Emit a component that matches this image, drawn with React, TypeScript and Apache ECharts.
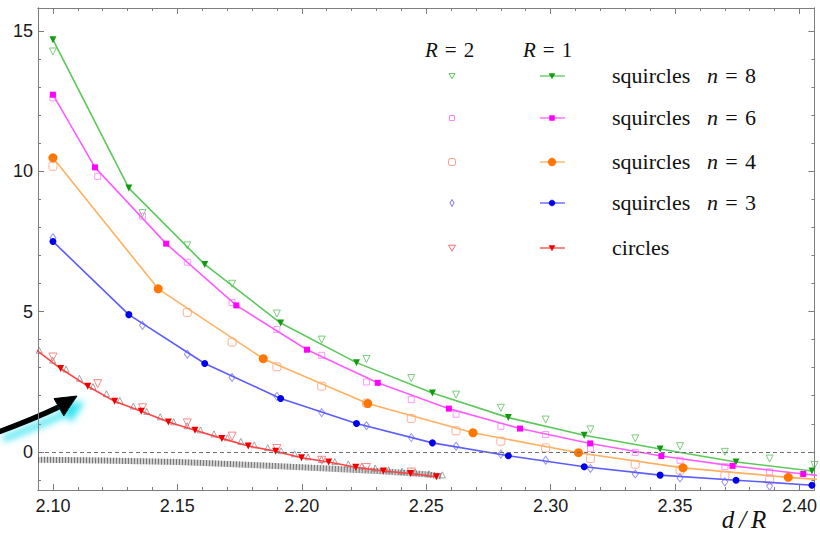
import React, { useEffect, useRef } from "react";
import * as echarts from "echarts";

// Plot window (d/R horizontally, energy vertically)
const X_MIN = 2.094;
const X_MAX = 2.406;
const Y_MIN = -1.36;
const Y_MAX = 15.82;

// Tick positions and labels
const xMajorTicks = [2.1, 2.15, 2.2, 2.25, 2.3, 2.35, 2.4];
const xMinorTicks = [
  2.1, 2.11, 2.12, 2.13, 2.14, 2.15, 2.16, 2.17, 2.18, 2.19, 2.2, 2.21, 2.22, 2.23, 2.24, 2.25,
  2.26, 2.27, 2.28, 2.29, 2.3, 2.31, 2.32, 2.33, 2.34, 2.35, 2.36, 2.37, 2.38, 2.39, 2.4,
];
const yMajorTicks = [0, 5, 10, 15];
const yMinorTicks = [-1, 0, 1, 2, 3, 4, 5, 6, 7, 8, 9, 10, 11, 12, 13, 14, 15];

// R = 1 (joined, filled markers)
const dN8R1 = [2.1, 2.1305, 2.161, 2.1915, 2.222, 2.2525, 2.283, 2.3135, 2.344, 2.3745, 2.405];
const n8R1 = [14.69, 9.4, 6.68, 4.59, 3.18, 2.1, 1.22, 0.59, 0.1, -0.36, -0.68];

const dN6R1 = [2.1, 2.1169, 2.1455, 2.1737, 2.2021, 2.2305, 2.2591, 2.2877, 2.3159, 2.3445, 2.3731, 2.4015, 2.4301];
const n6R1 = [12.73, 10.14, 7.42, 5.22, 3.64, 2.46, 1.54, 0.83, 0.3, -0.15, -0.5, -0.79, -1.05];

const dN4R1 = [2.1, 2.1423, 2.1845, 2.2265, 2.2688, 2.3112, 2.3532, 2.3955, 2.4378];
const n4R1 = [10.48, 5.81, 3.32, 1.72, 0.68, -0.03, -0.57, -0.91, -1.17];

const dN3R1 = [2.1, 2.1305, 2.161, 2.1915, 2.222, 2.2525, 2.283, 2.3135, 2.344, 2.3745, 2.405];
const n3R1 = [7.5, 4.89, 3.15, 1.9, 1.01, 0.32, -0.14, -0.53, -0.83, -1.01, -1.19];

const dCircR1 = [2.0923, 2.1031, 2.114, 2.1248, 2.1355, 2.1464, 2.1571, 2.1679, 2.1785, 2.1895, 2.1999, 2.2108, 2.2217, 2.2328, 2.2437, 2.2541];
const circR1 = [3.7, 2.97, 2.34, 1.8, 1.45, 1.06, 0.77, 0.48, 0.21, 0.02, -0.21, -0.36, -0.55, -0.68, -0.77, -0.89];

// R = 2 (open markers), common sampling in d/R
const dR2 = [2.1, 2.118, 2.136, 2.154, 2.172, 2.19, 2.208, 2.226, 2.244, 2.262, 2.28, 2.298, 2.316, 2.334, 2.352, 2.37, 2.388, 2.406];
const n8R2 = [14.27, null, 8.51, 7.36, 5.99, 4.93, 4.0, 3.31, 2.63, 2.04, 1.57, 1.15, 0.8, 0.48, 0.2, 0.0, -0.24, -0.47];
const n6R2 = [12.62, 9.82, 8.4, 6.76, 5.32, 4.36, 3.44, 2.49, 1.86, 1.34, 0.91, 0.62, 0.12, -0.02, -0.3, -0.53, -0.71, null];
const n4R2 = [10.18, null, null, 4.97, 3.91, 3.03, 2.34, 1.74, 1.19, 0.75, 0.38, 0.14, -0.24, -0.44, -0.65, -0.85, -1.01, null];
const n3R2 = [7.63, null, 4.51, 3.48, 2.65, 1.98, 1.4, 0.93, 0.51, 0.2, -0.08, -0.3, -0.59, -0.79, -0.93, -1.07, -1.22, null];
const circR2 = [3.38, 2.43, 1.57, 1.03, 0.56, 0.12, -0.3, -0.56, -0.72, null, null, null, null, null, null, null, null, null];

// Fine sampling of the circle curve (small grey triangles)
const dCircFine = [
  2.0945, 2.0999, 2.1053, 2.1107, 2.1161, 2.1215, 2.1269, 2.1323, 2.1377, 2.1431, 2.1485, 2.1539, 2.1593, 2.1647, 2.1701, 2.1755,
  2.1809, 2.1863, 2.1917, 2.1971, 2.2025, 2.2079, 2.2133, 2.2187, 2.2241, 2.2295, 2.2349, 2.2403, 2.2457, 2.2511, 2.2565,
];
const circFine = [
  3.62, 3.27, 2.95, 2.62, 2.33, 2.07, 1.83, 1.63, 1.44, 1.25, 1.07, 0.93, 0.78, 0.64, 0.5, 0.37,
  0.25, 0.15, 0.04, -0.07, -0.18, -0.27, -0.35, -0.43, -0.51, -0.58, -0.64, -0.69, -0.73, -0.78, -0.82,
];

// Dense dark band below zero
const dBand = [2.094, 2.12, 2.15, 2.17, 2.2, 2.23, 2.25, 2.256];
const bandVals = [-0.28, -0.31, -0.36, -0.43, -0.55, -0.68, -0.8, -0.87];

type Fam = {
  text: string;
  n: string | null;
  line: string;
  fill: string;
  open: string;
  sym1: string;
  size1: number;
  sym2: string;
  size2: number | number[];
  rot: number;
};

const fams: Fam[] = [
  { text: "squircles", n: "8", line: "#5cc85c", fill: "#139a13", open: "#5cbf5c", sym1: "triangle", size1: 7, sym2: "triangle", size2: 7, rot: 180 },
  { text: "squircles", n: "6", line: "#ff5cff", fill: "#ff00ff", open: "#ff80ff", sym1: "rect", size1: 6, sym2: "rect", size2: 6, rot: 0 },
  { text: "squircles", n: "4", line: "#ffb060", fill: "#ff7700", open: "#ff9a80", sym1: "circle", size1: 9, sym2: "roundRect", size2: 8, rot: 0 },
  { text: "squircles", n: "3", line: "#5c5cff", fill: "#0000ee", open: "#7a7aee", sym1: "circle", size1: 7, sym2: "diamond", size2: [6, 8], rot: 0 },
  { text: "circles", n: null, line: "#ff4444", fill: "#ee0000", open: "#ff6a6a", sym1: "triangle", size1: 7, sym2: "triangle", size2: 8, rot: 180 },
];

const r1Sets: [number[], number[]][] = [
  [dN8R1, n8R1],
  [dN6R1, n6R1],
  [dN4R1, n4R1],
  [dN3R1, n3R1],
  [dCircR1, circR1],
];
const r2Sets: (number | null)[][] = [n8R2, n6R2, n4R2, n3R2, circR2];

const zip = (xs: number[], ys: (number | null)[]) => {
  const out: [number, number][] = [];
  xs.forEach((x, i) => {
    const y = ys[i];
    if (y !== null && y !== undefined) out.push([x, y]);
  });
  return out;
};

const AX = "#7d7d7d";
const LABEL_FONT = "'Liberation Sans', Arial, sans-serif";
const SERIF = "'Liberation Serif', 'Times New Roman', serif";
const SP = "\u2004";

const legendRowsY = [76, 118, 162, 203, 248];

function markerGraphic(kind: string, cx: number, cy: number, size: number, color: string, filled: boolean, rot: number) {
  const style = filled
    ? { fill: color, stroke: color, lineWidth: 0.5 }
    : { fill: "none", stroke: color, lineWidth: 1 };
  const h = size / 2;
  if (kind === "triangle") {
    const s = rot === 180 ? 1 : -1;
    return {
      type: "polygon",
      shape: { points: [[cx - h, cy - s * h * 0.8], [cx + h, cy - s * h * 0.8], [cx, cy + s * h * 0.9]] },
      style,
    };
  }
  if (kind === "rect" || kind === "roundRect") {
    return { type: "rect", shape: { x: cx - h, y: cy - h, width: size, height: size, r: kind === "roundRect" ? 2 : 0 }, style };
  }
  if (kind === "diamond") {
    return { type: "polygon", shape: { points: [[cx, cy - h - 1], [cx + h - 0.5, cy], [cx, cy + h + 1], [cx - h + 0.5, cy]] }, style };
  }
  return { type: "circle", shape: { cx, cy, r: h }, style };
}

function buildLegend() {
  const els: any[] = [];
  const heading = (x: number, r: string) => ({
    type: "text",
    x,
    y: 50,
    style: {
      text: `{i|R}${SP}=${SP}${r}`,
      font: `21px ${SERIF}`,
      fill: "#111",
      verticalAlign: "middle",
      rich: { i: { font: `italic 21px ${SERIF}` } },
    },
  });
  els.push(heading(425, "2"));
  els.push(heading(523, "1"));
  fams.forEach((f, i) => {
    const y = legendRowsY[i];
    const s2 = Array.isArray(f.size2) ? f.size2[0] : f.size2;
    els.push(markerGraphic(f.sym2, 452, y, s2 - 1, f.open, false, f.rot));
    els.push({ type: "line", shape: { x1: 540, y1: y, x2: 565, y2: y }, style: { stroke: f.line, lineWidth: 1.3 } });
    els.push(markerGraphic(f.sym1, 552, y, f.size1 - 1, f.fill, true, f.rot));
    els.push({
      type: "text",
      x: 612,
      y: y - 1,
      style: { text: f.text, font: `22px ${SERIF}`, fill: "#111", verticalAlign: "middle" },
    });
    if (f.n) {
      els.push({
        type: "text",
        x: 707,
        y: y - 1,
        style: {
          text: `{i|n}${SP}=${SP}${f.n}`,
          font: `22px ${SERIF}`,
          fill: "#111",
          verticalAlign: "middle",
          rich: { i: { font: `italic 22px ${SERIF}` } },
        },
      });
    }
  });
  return els;
}

function buildArrow() {
  const shadow = { shadowBlur: 7, shadowColor: "rgba(40,225,240,0.95)", shadowOffsetX: 7, shadowOffsetY: 6 };
  return [
    {
      type: "bezierCurve",
      shape: { x1: -4, y1: 433, cpx1: 34, cpy1: 419, x2: 61, y2: 406 },
      style: { stroke: "#000", lineWidth: 5.5, fill: "none", ...shadow },
    },
    {
      type: "polygon",
      shape: { points: [[77, 396], [54, 398.6], [63.8, 416]] },
      style: { fill: "#000", stroke: "#000", lineWidth: 1, ...shadow },
    },
  ];
}

const xBase = {
  type: "value",
  min: X_MIN,
  max: X_MAX,
  axisLine: { show: true, onZero: false, lineStyle: { color: AX, width: 1 } },
  splitLine: { show: false },
};
const yBase = {
  type: "value",
  min: Y_MIN,
  max: Y_MAX,
  axisLine: { show: true, onZero: false, lineStyle: { color: AX, width: 1 } },
  splitLine: { show: false },
};

function buildOption() {
  const series: any[] = [];

  // dark band, with the zero reference line
  series.push({
    type: "line",
    data: zip(dBand, bandVals),
    showSymbol: false,
    lineStyle: { color: "rgba(150,150,150,0.45)", width: 6 },
    z: 1,
    markLine: {
      silent: true,
      symbol: "none",
      label: { show: false },
      lineStyle: { color: "#6f6f6f", type: [4, 3], width: 1 },
      data: [{ yAxis: 0 }],
    },
  });
  series.push({
    type: "line",
    data: zip(dBand, bandVals),
    showSymbol: false,
    lineStyle: { color: "#3a3a3a", width: 6, type: [1, 2], opacity: 0.6 },
    z: 1,
  });

  // fine circle sampling
  series.push({
    type: "scatter",
    data: zip(dCircFine, circFine),
    symbol: "triangle",
    symbolSize: 6,
    itemStyle: { color: "rgba(0,0,0,0)", borderColor: "#808080", borderWidth: 0.9 },
    z: 2,
  });

  // R = 2 open markers
  fams.forEach((f, i) => {
    series.push({
      type: "scatter",
      name: `${f.text} ${f.n ?? ""} R2`,
      data: zip(dR2, r2Sets[i]),
      symbol: f.sym2,
      symbolSize: f.size2,
      symbolRotate: f.rot,
      itemStyle: { color: "rgba(0,0,0,0)", borderColor: f.open, borderWidth: 1 },
      z: 3,
    });
  });

  // R = 1 joined markers
  fams.forEach((f, i) => {
    const [xs, ys] = r1Sets[i];
    series.push({
      type: "line",
      name: `${f.text} ${f.n ?? ""} R1`,
      data: zip(xs, ys),
      symbol: f.sym1,
      symbolSize: f.size1,
      symbolRotate: f.rot,
      showAllSymbol: true,
      clip: true,
      lineStyle: { color: f.line, width: 1.6 },
      itemStyle: { color: f.fill, borderColor: f.fill, borderWidth: 0 },
      z: 4,
    });
  });

  const majorTick = (vals: number[]) => ({ show: true, inside: true, length: 6, customValues: vals, lineStyle: { color: AX, width: 1 } });
  const minorTick = (vals: number[]) => ({ show: true, inside: true, length: 3, customValues: vals, lineStyle: { color: AX, width: 1 } });

  return {
    animation: false,
    backgroundColor: "#ffffff",
    grid: { left: 38, right: 2, top: 8, bottom: 47, containLabel: false },
    xAxis: [
      {
        ...xBase,
        position: "bottom",
        axisTick: majorTick(xMajorTicks),
        axisLabel: {
          show: true,
          customValues: xMajorTicks,
          formatter: (v: number) => v.toFixed(2),
          margin: 7,
          fontSize: 18,
          fontFamily: LABEL_FONT,
          color: "#1a1a1a",
        },
      },
      { ...xBase, position: "bottom", axisTick: minorTick(xMinorTicks), axisLabel: { show: false } },
      { ...xBase, position: "top", axisTick: majorTick(xMajorTicks), axisLabel: { show: false } },
      { ...xBase, position: "top", axisTick: minorTick(xMinorTicks), axisLabel: { show: false } },
    ],
    yAxis: [
      {
        ...yBase,
        position: "left",
        axisTick: majorTick(yMajorTicks),
        axisLabel: {
          show: true,
          customValues: yMajorTicks,
          formatter: (v: number) => String(v),
          margin: 5,
          fontSize: 18,
          fontFamily: LABEL_FONT,
          color: "#1a1a1a",
        },
      },
      { ...yBase, position: "left", axisTick: minorTick(yMinorTicks), axisLabel: { show: false } },
      { ...yBase, position: "right", axisTick: majorTick(yMajorTicks), axisLabel: { show: false } },
      { ...yBase, position: "right", axisTick: minorTick(yMinorTicks), axisLabel: { show: false } },
    ],
    series,
    graphic: [
      ...buildArrow(),
      ...buildLegend(),
      {
        type: "text",
        x: 744,
        y: 519,
        style: {
          text: "d\u2009/\u2009R",
          font: `italic 25px ${SERIF}`,
          fill: "#111",
          align: "center",
          verticalAlign: "middle",
        },
      },
    ],
  };
}

export default function App() {
  const ref = useRef<HTMLDivElement>(null);
  useEffect(() => {
    if (!ref.current) return;
    const chart = echarts.init(ref.current, undefined, { renderer: "svg" });
    chart.setOption(buildOption() as any);
    return () => chart.dispose();
  }, []);
  return (
    <div
      ref={ref}
      style={{ position: "fixed", left: 0, top: 0, width: 820, height: 537, background: "#fff" }}
    />
  );
}
